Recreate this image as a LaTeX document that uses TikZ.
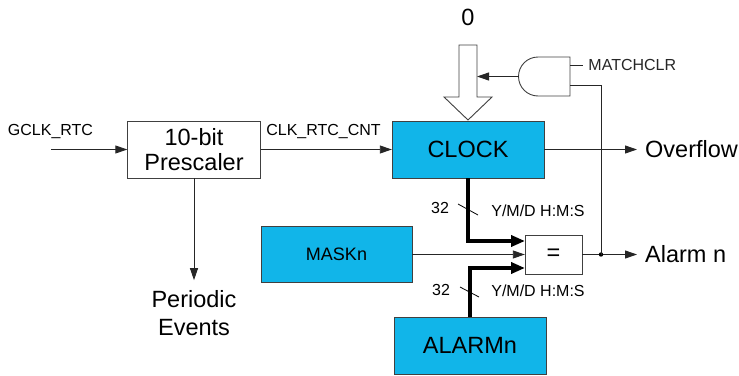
\documentclass[tikz,border=0pt]{standalone}
\usepackage{fontspec}
\setmainfont{Liberation Sans}
\usetikzlibrary{arrows.meta}
\definecolor{rtcblue}{RGB}{17,181,233}
\tikzset{
  blk/.style={draw=black!75,fill=rtcblue,inner sep=0pt,font=\fontsize{23.5}{28}\selectfont},
  plain/.style={draw=black!75,fill=white,inner sep=0pt,align=center,font=\fontsize{23.5}{28}\selectfont},
  sig/.style={-{Triangle[length=12pt,width=8pt]},line width=0.9pt,black!85},
  bus/.style={-{Triangle[length=14pt,width=11pt]},line width=3.5pt},
  lbl/.style={font=\fontsize{16}{19}\selectfont,inner sep=0pt},
  big/.style={font=\fontsize{23.5}{28}\selectfont,inner sep=0pt}
}

\begin{document}
\begin{tikzpicture}[x=1pt,y=-1pt]
    \useasboundingbox (0,0) rectangle (739,375);

    % Define the rows of the layout
    \def\yclk{149.5}   % row of the clock path
    \def\ycmp{254.5}   % row of the comparator
    \def\xout{637}     % where the output arrows end

    % -- Blocks --
    \node[plain, minimum width=133pt, minimum height=57pt] (prescaler) at (194,\yclk) {10-bit\\[-3pt]Prescaler};
    \node[blk, minimum width=152pt, minimum height=57pt] (clock) at (468,\yclk) {CLOCK};
    \node[blk, minimum width=151pt, minimum height=56pt, font=\fontsize{18}{21}\selectfont] (maskn) at (336.5,\ycmp) {MASKn};
    \node[blk, minimum width=152pt, minimum height=57pt] (alarmn) at (470,345.5) {ALARMn};
    \node[plain, minimum width=57pt, minimum height=39pt] (cmp) at (553.5,\ycmp) {=};

    % -- Free ends and outputs --
    \coordinate (gclk) at (51,\yclk);
    \node[big, anchor=west, inner xsep=8pt] (overflow) at (\xout,\yclk) {Overflow};
    \node[big, anchor=west, inner xsep=8pt] (alarm) at (\xout,\ycmp) {Alarm n};
    \node[big, align=center, inner sep=10pt] (events) at (194,313) {Periodic\\Events};

    % -- Clock path --
    \draw[sig] (gclk) -- (prescaler);
    \draw[sig] (prescaler) -- (clock);
    \draw[sig] (prescaler) -- (events);
    \draw[sig] (clock) -- (overflow);
    \draw (50.5,132) node[lbl] {GCLK\_RTC};
    \draw (323.5,132) node[lbl] {CLK\_RTC\_CNT};

    % -- Comparator inputs --
    \coordinate (cmpa) at (525,241);
    \coordinate (cmpc) at (525,268);
    \draw[bus] (clock) |- (cmpa);
    \draw[bus] (alarmn) |- (cmpc);
    \draw[sig] (maskn) -- (maskn -| cmp.west);

    % -- Bus width marks --
    \draw[line width=0.8pt] (458,204) -- (478,215);
    \draw[line width=0.8pt] (460,287) -- (479,297);
    \draw
      (440,208) node[lbl] {32}
      (538,211) node[lbl] {Y/M/D H:M:S}
      (441,290) node[lbl] {32}
      (538,291) node[lbl] {Y/M/D H:M:S};

    % -- Output and match clear --
    \coordinate (tap) at (601,\ycmp);
    \draw[sig] (cmp) -- (alarm);
    \fill (tap) circle (2.2pt);

    % mirrored AND gate
    \draw[line width=0.9pt, black!75] (570,57) -- (538,57) arc (90:270:19.5pt) -- (570,96) -- cycle;
    \coordinate (andA) at (570,65);
    \coordinate (andB) at (570,85);
    \coordinate (andout) at (518.5,76.5);
    \coordinate (mclr) at (583,65);
    \draw[line width=0.9pt, black!85] (andA) -- (mclr) node[lbl, anchor=west, xshift=5pt] {MATCHCLR};
    \draw[line width=0.9pt, black!85] (tap) |- (andB);

    % hollow load arrow
    \draw[line width=0.9pt, black!75, fill=white]
      (459,45) -- (477,45) -- (477,97) -- (492,97) -- (468,120) -- (444,97) -- (459,97) -- cycle;
    \coordinate (load) at (477,76.5);
    \draw[sig] (andout) -- (load);
    \draw (468,17) node[big] {0};

\end{tikzpicture}
\end{document}
